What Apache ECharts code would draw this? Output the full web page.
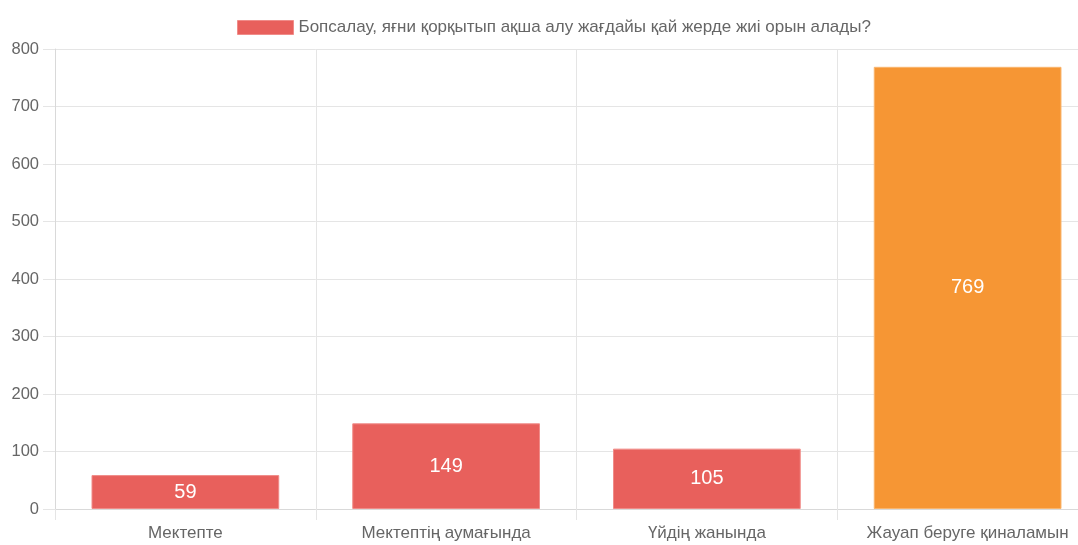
<!DOCTYPE html>
<html>
<head>
<meta charset="utf-8">
<script src="https://cdn.jsdelivr.net/npm/echarts@6/dist/echarts.min.js"></script>
<style>
  html, body { margin: 0; padding: 0; background: #fff; overflow: hidden; }
  /* the original canvas is a little wider than the picture, its right edge is cut off */
  #chart { width: 1098px; height: 545px; }
</style>
</head>
<body>
<div id="chart"></div>
<script>
// данные
const categories = ['Мектепте', 'Мектептің аумағында', 'Үйдің жанында', 'Жауап беруге қиналамын']
const values = [59, 149, 105, 769]
const barColors = ['#e8605c', '#e8605c', '#e8605c', '#f69634']
const borderColors = ['#f08c89', '#f08c89', '#f08c89', '#f9b56e']
const seriesName = 'Бопсалау, яғни қорқытып ақша алу жағдайы қай жерде жиі орын алады?'

const chart = echarts.init(document.getElementById('chart'))
const font = 'Liberation Sans, Arial, sans-serif'

chart.setOption({
  animation: false,
  textStyle: { fontFamily: font },
  legend: {
    top: 14,
    left: 232,
    icon: 'rect',
    itemWidth: 56,
    itemHeight: 14,
    itemGap: 10,
    textStyle: { color: '#666', fontSize: 17, fontFamily: font },
    data: [{ name: seriesName, itemStyle: { color: '#e8605c', borderColor: '#f08c89', borderWidth: 1 } }],
  },
  grid: { left: 55, right: 0, top: 49, bottom: 36 },
  xAxis: {
    type: 'category',
    data: categories,
    axisLine: { lineStyle: { color: '#d9d9d9' } },
    axisTick: { show: true, interval: 0, length: 11, lineStyle: { color: '#e5e5e5' } },
    splitLine: { show: true, interval: 0, lineStyle: { color: '#e5e5e5' } },
    axisLabel: { color: '#666', fontSize: 17, margin: 16, interval: 0 },
  },
  yAxis: {
    type: 'value',
    min: 0,
    max: 800,
    interval: 100,
    axisLine: { show: true, lineStyle: { color: '#d9d9d9' } },
    axisTick: { show: true, length: 12, lineStyle: { color: '#e5e5e5' } },
    splitLine: { lineStyle: { color: '#e5e5e5' } },
    axisLabel: { color: '#666', fontSize: 16.5, margin: 16 },
  },
  series: [
    {
      name: seriesName,
      type: 'bar',
      barWidth: '72%',
      data: values.map((v, i) => ({
        value: v,
        itemStyle: { color: barColors[i], borderColor: borderColors[i], borderWidth: 1 },
      })),
      label: {
        show: true,
        position: 'inside',
        color: '#fff',
        fontSize: 20,
        fontFamily: font,
      },
    },
  ],
})
</script>
</body>
</html>
